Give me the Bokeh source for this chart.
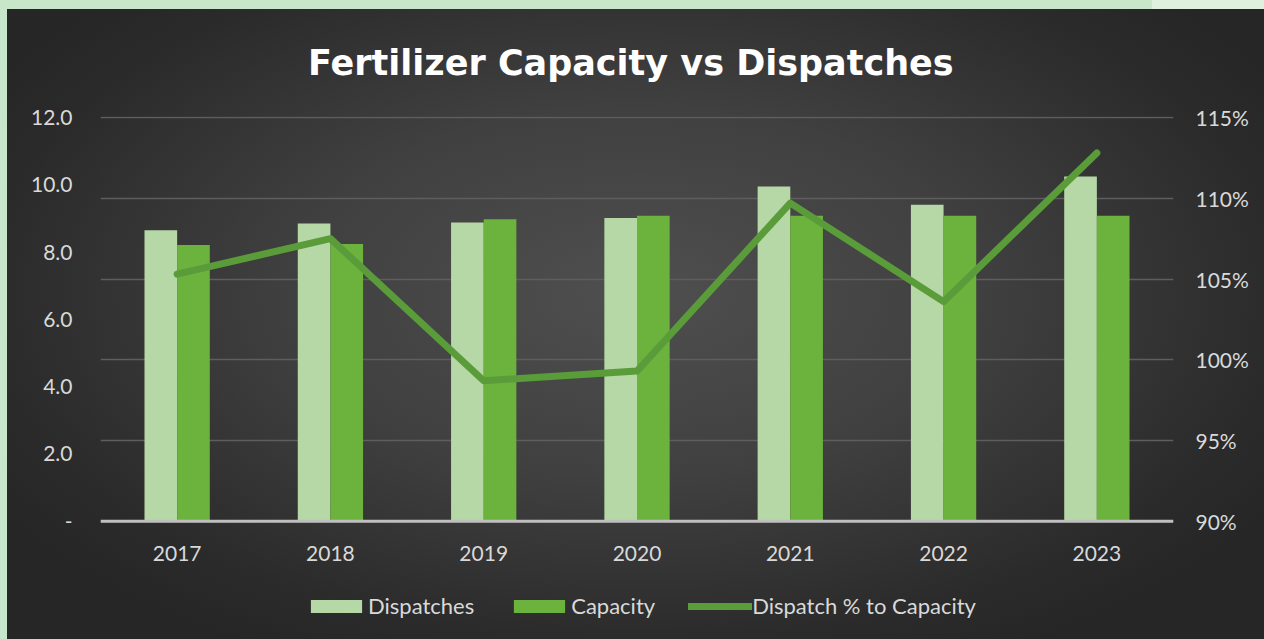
from bokeh.plotting import figure
from bokeh.models import (FactorRange, Range1d, LinearAxis, FixedTicker, NumeralTickFormatter,
                          Legend, LegendItem, Grid, ColumnDataSource, Span)
from bokeh.core.properties import value
from bokeh.transform import dodge
from bokeh.embed import file_html
from bokeh.resources import INLINE

# ---- data ----
years = ["2017", "2018", "2019", "2020", "2021", "2022", "2023"]
dispatches = [8.65, 8.85, 8.88, 9.01, 9.95, 9.41, 10.25]
capacity = [8.21, 8.24, 8.98, 9.08, 9.08, 9.08, 9.08]
dispatch_pct = [1.053, 1.075, 0.987, 0.993, 1.097, 1.036, 1.128]
left_ticks = [0, 2, 4, 6, 8, 10, 12]
left_labels = ["-", "2.0", "4.0", "6.0", "8.0", "10.0", "12.0"]
right_ticks = [0.90, 0.95, 1.00, 1.05, 1.10, 1.15]
title_text = "Fertilizer  Capacity vs Dispatches"
series_names = ["Dispatches", "Capacity", "Dispatch % to Capacity"]

src = ColumnDataSource(dict(year=years, dispatches=dispatches, capacity=capacity,
                            pct=dispatch_pct, base=[0] * len(years)))

FONT = "Lato"
LABEL_COLOR = "#d9d9d9"

# frame extends below the category axis so the legend can sit inside it
p = figure(width=1264, height=639, x_range=FactorRange(*years, range_padding=0),
           y_range=Range1d(-3.246, 12.03), output_backend="svg", toolbar_location=None,
           min_border_left=100, min_border_right=91, min_border_top=116, min_border_bottom=9)
p.extra_y_ranges = {"pct": Range1d(0.83236, 1.15062)}

p.background_fill_alpha = 0
p.border_fill_alpha = 0
p.outline_line_alpha = 0
p.styles = {"background":
            "radial-gradient(ellipse 60% 65% at 50% 45%, #4f4f4f 0%, #404040 45%, #2b2b2b 85%, #262626 100%) "
            "7px 9px / 1257px 630px no-repeat, "
            "linear-gradient(to right, #c8e6c9 0, #c8e6c9 1152px, #dff0df 1152px)"}

# title
p.title.text = title_text
p.title.align = "center"
p.title.text_font = "DejaVu Sans"
p.title.text_font_style = "bold"
p.title.text_font_size = "35px"
p.title.text_color = "#ffffff"
p.title.standoff = 68

# grid (follows the secondary axis, as in the reference)
p.xgrid.grid_line_color = None
p.ygrid.grid_line_color = None
rticker = FixedTicker(ticks=right_ticks)
g = Grid(dimension=1, ticker=rticker, y_range_name="pct",
         grid_line_color="#5e5e5e", grid_line_width=1.5)
p.add_layout(g)

# bars
b1 = p.vbar(x=dodge("year", -0.1065, range=p.x_range), top="dispatches", width=0.213, source=src,
            fill_color="#b6d8a6", line_color=None)
b2 = p.vbar(x=dodge("year", 0.1065, range=p.x_range), top="capacity", width=0.213, source=src,
            fill_color="#6cb33e", line_color=None)

# category baseline
p.add_layout(Span(location=0, dimension="width", line_color="#bfbfbf", line_width=3))

ln = p.line(x="year", y="pct", source=src, y_range_name="pct", line_color="#5a9c3a",
            line_width=7, line_join="round", line_cap="round")

# category labels under the baseline
p.text(x="year", y="base", text="year", source=src, y_offset=32, text_align="center",
       text_baseline="middle", text_font=value(FONT), text_font_size="21px", text_color=LABEL_COLOR)

# axes
p.xaxis.visible = False

p.yaxis.ticker = FixedTicker(ticks=left_ticks)
p.yaxis.major_label_overrides = {t: l for t, l in zip(left_ticks, left_labels)}
p.yaxis.axis_line_color = None
p.yaxis.major_tick_line_color = None
p.yaxis.minor_tick_line_color = None
p.yaxis.major_label_text_font = FONT
p.yaxis.major_label_text_font_size = "21px"
p.yaxis.major_label_text_color = LABEL_COLOR
p.yaxis.major_label_standoff = 22

raxis = LinearAxis(y_range_name="pct", ticker=rticker,
                   formatter=NumeralTickFormatter(format="0%"))
raxis.axis_line_color = None
raxis.major_tick_line_color = None
raxis.minor_tick_line_color = None
raxis.major_label_text_font = FONT
raxis.major_label_text_font_size = "21px"
raxis.major_label_text_color = LABEL_COLOR
raxis.major_label_standoff = 16
p.add_layout(raxis, "right")

legend = Legend(items=[LegendItem(label=series_names[0], renderers=[b1]),
                       LegendItem(label=series_names[1], renderers=[b2]),
                       LegendItem(label=series_names[2], renderers=[ln])],
                orientation="horizontal", location=(198, 5))
legend.background_fill_alpha = 0
legend.border_line_alpha = 0
legend.label_text_font = FONT
legend.label_text_font_size = "22px"
legend.label_text_color = LABEL_COLOR
legend.glyph_width = 64
legend.glyph_height = 16
legend.label_standoff = 0
legend.spacing = 33
legend.margin = 0
legend.padding = 6
p.add_layout(legend)

open("out.html", "w").write(file_html(p, INLINE))
